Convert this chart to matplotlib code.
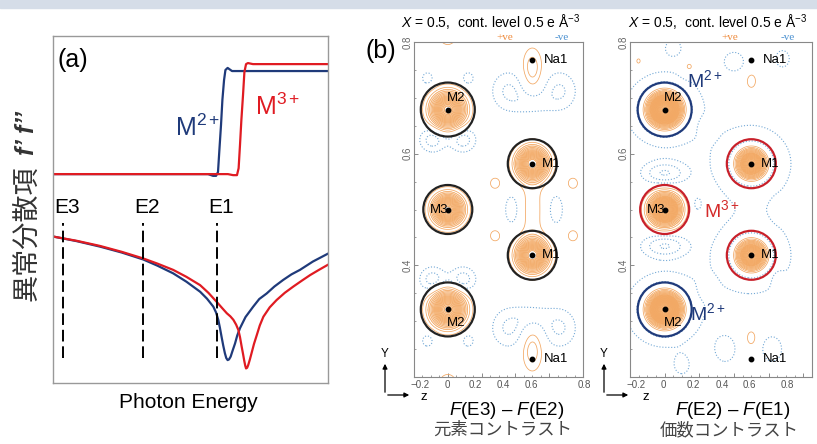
import numpy as np
import matplotlib
matplotlib.use("Agg")
import matplotlib.pyplot as plt
from matplotlib.patches import Ellipse, Rectangle, FancyArrowPatch
from matplotlib.transforms import blended_transform_factory

plt.rcParams['font.family'] = ['Liberation Sans', 'Noto Sans CJK JP', 'DejaVu Sans']
plt.rcParams['mathtext.fontset'] = 'custom'
plt.rcParams['mathtext.rm'] = 'Liberation Sans'
plt.rcParams['mathtext.it'] = 'Liberation Sans:italic'
plt.rcParams['mathtext.bf'] = 'Liberation Sans:bold'

NAVY = '#1f3a7a'
RED = '#e01b22'
ORANGE = '#f2a660'
LBLUE = '#74a9d6'

# ---- panel (a): anomalous dispersion curves (arbitrary units) ----
fpp_blue_e = [0, 56.4, 58.2, 59.3, 60.0, 60.5, 61.1, 61.6, 62.2, 62.7, 63.5, 65.1, 100]
fpp_blue_i = [60.2, 60.2, 59.7, 59.7, 60.8, 67.1, 74.4, 81.6, 87.3, 90.2, 90.8, 89.9, 89.9]
fpp_red_e = [0, 63.6, 65.5, 66.9, 67.5, 68.0, 68.5, 69.1, 69.6, 70.2, 70.9, 72.7, 100]
fpp_red_i = [60.2, 60.2, 59.9, 59.9, 61.9, 68.6, 75.8, 83.0, 89.6, 91.9, 92.2, 91.9, 91.9]

fp_blue_e = [0.1, 8.5, 17.1, 25.0, 32.8, 38.0, 43.7, 48.5, 53.5, 56.0, 58.3, 59.3, 60.1,
             60.7, 61.3, 61.9, 62.5, 63.0, 63.5, 64.0, 64.6, 65.3, 66.2, 67.0, 68.0,
             70.0, 72.8, 75.0, 77.7, 80.5, 83.7, 86.7, 89.8, 94.5, 99.8]
fp_blue_i = [42.2, 40.9, 39.3, 37.6, 35.6, 33.8, 31.6, 29.2, 26.3, 24.3, 22.0, 20.3, 18.2,
             15.9, 13.3, 10.8, 8.6, 7.2, 6.6, 6.8, 7.6, 9.3, 11.4, 13.7, 15.8,
             19.0, 22.0, 24.2, 25.8, 27.8, 29.7, 31.3, 32.6, 35.0, 37.2]
fp_red_e = [0.1, 8.5, 17.1, 25.0, 32.8, 38.0, 43.7, 48.5, 53.5, 56.5, 59.5, 61.5, 63.2,
            64.5, 65.6, 66.6, 67.4, 68.0, 68.6, 69.1, 69.5, 69.9, 70.2, 70.6, 71.0,
            71.6, 72.2, 73.1, 74.1, 75.2, 76.5, 78.8, 81.3, 84.3, 87.4, 90.5, 93.5,
            96.7, 99.8]
fp_red_i = [42.2, 41.0, 39.5, 37.8, 35.9, 34.4, 32.6, 30.6, 28.2, 26.0, 23.4, 21.6, 20.1,
            19.2, 18.2, 16.8, 15.3, 13.2, 10.5, 8.4, 6.6, 5.0, 4.2, 4.4, 5.2,
            6.8, 8.6, 11.3, 13.8, 16.6, 19.1, 21.8, 23.9, 26.0, 27.8, 29.5, 31.1,
            32.6, 34.0]

edge_names = ['E3', 'E2', 'E1']
edge_e = [3.6, 32.7, 59.6]
edge_top, edge_bottom = 46.1, 7.2

# ---- panel (b): difference-Fourier maps, modelled as sums of peaks ----
atom_names = ['M2', 'M2', 'M1', 'M1', 'M3', 'Na1', 'Na1']
atom_z = [0.0, 0.0, 0.5, 0.5, 0.0, 0.5, 0.5]
atom_y = [0.679, 0.321, 0.582, 0.418, 0.5, 0.768, 0.232]
circle_r = [27, 27, 24.5, 24.5, 24.5, 0, 0]          # circle radius in px
left_circle_color = ['#222222'] * 7
right_circle_color = [NAVY, NAVY, '#c8202a', '#c8202a', '#c8202a', None, None]

# element contrast F(E3)-F(E2): z, y, amplitude, sigma_z, sigma_y
elem_z = [0.0, 0.0, 0.5, 0.5, 0.0, 0.5, 0.5, 0.0, 0.0, 0.28, 0.74, 0.28, 0.74, 0.5,
          -0.09, 0.09, -0.09, 0.09, -0.12, 0.12, -0.12, 0.12,
          0.36, 0.66, 0.5, 0.36, 0.66, 0.5, 0.38, 0.64, 0.84, 0.84]
elem_y = [0.679, 0.321, 0.582, 0.418, 0.5, 0.752, 0.248, 0.83, 0.17, 0.547, 0.547, 0.453, 0.453, 0.5,
          0.625, 0.625, 0.375, 0.375, 0.735, 0.735, 0.265, 0.265,
          0.712, 0.712, 0.69, 0.288, 0.288, 0.31, 0.5, 0.5, 0.62, 0.38]
elem_amp = [9, 9, 9, 9, 9, 1.4, 1.4, 1.3, 1.3, 0.75, 0.75, 0.75, 0.75, 0.78,
            -1.3, -1.3, -1.3, -1.3, -0.8, -0.8, -0.8, -0.8,
            -1.1, -1.1, -0.7, -1.1, -1.1, -0.7, -0.9, -0.9, -0.8, -0.8]
elem_sz = [0.062, 0.062, 0.057, 0.057, 0.056, 0.042, 0.042, 0.05, 0.05, 0.03, 0.03, 0.03, 0.03, 0.05,
           0.055, 0.055, 0.055, 0.055, 0.03, 0.03, 0.03, 0.03,
           0.075, 0.075, 0.07, 0.075, 0.075, 0.07, 0.035, 0.035, 0.04, 0.04]
elem_sy = [0.019, 0.019, 0.0175, 0.0175, 0.017, 0.026, 0.026, 0.025, 0.025, 0.01, 0.01, 0.01, 0.01, 0.07,
           0.016, 0.016, 0.016, 0.016, 0.01, 0.01, 0.01, 0.01,
           0.026, 0.026, 0.015, 0.026, 0.026, 0.015, 0.022, 0.022, 0.02, 0.02]

# valence contrast F(E2)-F(E1)
val_z = [0.0, 0.0, 0.5, 0.5, 0.0, 0.0, 0.0, 0.5, 0.5, 0.0, 0.0,
         0.25, 0.14, -0.15, 0.5, 0.5, 0.66, 0.66, 0.25,
         0.05, 0.4, 0.68, 0.19, 0.35, 0.62, 0.1]
val_y = [0.679, 0.321, 0.582, 0.418, 0.5, 0.679, 0.321, 0.582, 0.418, 0.565, 0.435,
         0.645, 0.755, 0.765, 0.73, 0.27, 0.5, 0.37, 0.36,
         0.79, 0.765, 0.77, 0.51, 0.25, 0.25, 0.22]
val_amp = [14, 14, 10, 10, 10, -1.6, -1.6, -1.6, -1.6, -1.5, -1.5,
           0.9, 0.8, 0.7, 0.8, 0.8, 0.8, 0.8, 0.9,
           -0.8, -0.9, -0.8, -0.7, -0.9, -0.9, -0.7]
val_sz = [0.06, 0.06, 0.055, 0.055, 0.055, 0.15, 0.15, 0.15, 0.15, 0.09, 0.09,
          0.03, 0.03, 0.025, 0.025, 0.025, 0.025, 0.025, 0.03,
          0.04, 0.05, 0.04, 0.02, 0.05, 0.05, 0.04]
val_sy = [0.0185, 0.0185, 0.017, 0.017, 0.017, 0.045, 0.045, 0.045, 0.045, 0.014, 0.014,
          0.012, 0.01, 0.01, 0.012, 0.012, 0.012, 0.012, 0.012,
          0.012, 0.015, 0.015, 0.01, 0.02, 0.02, 0.015]

xtick_vals = ['\u22120.2', '0', '0.2', '0.4', '0.6', '0.8']
left_xlabel_pos = [-0.165, -0.005, 0.165, 0.33, 0.495, 0.805]
right_xlabel_pos = [-0.165, -0.005, 0.165, 0.33, 0.49, 0.705]

W, H = 817, 444
fig = plt.figure(figsize=(W / 100, H / 100), dpi=100)
fig.patches.append(Rectangle((0, 436 / H), 1, 8 / H, transform=fig.transFigure,
                             color='#d5dde8', zorder=0))


def fig_box(x0, y0, x1, y1):
    return [x0 / W, 1 - y1 / H, (x1 - x0) / W, (y1 - y0) / H]


def ftext(x, y, s, **kw):
    fig.text(x / W, 1 - y / H, s, **kw)


# ---- panel (a) ----
ax = fig.add_axes(fig_box(53, 36, 328, 383))
ax.plot(fpp_blue_e, fpp_blue_i, color=NAVY, lw=1.6)
ax.plot(fpp_red_e, fpp_red_i, color=RED, lw=1.6)
ax.plot(fp_blue_e, fp_blue_i, color=NAVY, lw=1.6)
ax.plot(fp_red_e, fp_red_i, color=RED, lw=1.6)
for name, e in zip(edge_names, edge_e):
    ax.plot([e, e], [edge_bottom, edge_top], color='black', lw=1.4,
            linestyle=(0, (6, 2.5)))
    ax.text(e + 1.5, edge_top + 4.5, name, ha='center', va='center', fontsize=15)
ax.text(1.5, 93, '(a)', ha='left', va='center', fontsize=18)
ax.text(52.4, 73.5, r'M$^{\mathregular{2+}}$', color=NAVY, ha='center', va='center', fontsize=18)
ax.text(81.8, 79.5, r'M$^{\mathregular{3+}}$', color=RED, ha='center', va='center', fontsize=18)
ax.set_xlim(0, 100)
ax.set_ylim(0, 100)
ax.set_xticks([])
ax.set_yticks([])
for sp in ax.spines.values():
    sp.set_color('#999999')
    sp.set_linewidth(1.0)
ftext(188, 402, 'Photon Energy', ha='center', va='center', fontsize=15)
ftext(27, 233, '異常分散項', rotation=90, ha='center', va='center', fontsize=19.5,
      family='Noto Sans CJK JP', color='#333333')
ftext(27, 133, 'f\u2019 f\u2019\u2019', rotation=90, ha='center', va='center', fontsize=18,
      style='italic', weight='bold', color='#333333')


# ---- panel (b) ----
def field(zz, yy, pz, py, amp, sz, sy):
    out = np.zeros_like(zz)
    for a, b, c, d, e in zip(pz, py, amp, sz, sy):
        out += c * np.exp(-((zz - a) ** 2) / (2 * d ** 2) - ((yy - b) ** 2) / (2 * e ** 2))
    return out


def draw_map(box, zmax, pz, py, amp, sz, sy, circle_colors, label_pos, top_level, fills):
    ax = fig.add_axes(fig_box(*box))
    zg = np.linspace(-0.2, zmax, 500)
    yg = np.linspace(0.2, 0.8, 700)
    zz, yy = np.meshgrid(zg, yg)
    f = field(zz, yy, pz, py, amp, sz, sy)
    ax.contourf(zz, yy, f, levels=[1.5, 4.0, top_level], colors=fills)
    ax.contour(zz, yy, f, levels=np.arange(0.5, top_level + 0.1, 0.5), colors=ORANGE,
               linewidths=0.55)
    ax.contour(zz, yy, f, levels=[-2.0, -1.5, -1.0, -0.5], colors=LBLUE,
               linewidths=0.8, linestyles=':')
    px_z = (box[2] - box[0]) / (zmax + 0.2)
    px_y = (box[3] - box[1]) / 0.6
    for name, z, y, r, col in zip(atom_names, atom_z, atom_y, circle_r, circle_colors):
        if r > 0:
            ax.add_patch(Ellipse((z, y), 2 * r / px_z, 2 * r / px_y, fill=False,
                                 edgecolor=col, lw=1.6, zorder=5))
        ax.plot(z, y, 'o', color='black', ms=3.2, zorder=6)
    for name, z, y in zip(atom_names, atom_z, atom_y):
        if name == 'M2' and y > 0.5:
            ax.text(z + 8 / px_z, y + 12 / px_y, name, ha='center', va='center', fontsize=9.5, zorder=7)
        elif name == 'M2':
            ax.text(z + 8 / px_z, y - 14 / px_y, name, ha='center', va='center', fontsize=9.5, zorder=7)
        elif name == 'M1':
            ax.text(z + 10 / px_z, y, name, ha='left', va='center', fontsize=9.5, zorder=7)
        elif name == 'M3':
            ax.text(z + 1 / px_z, y, name, ha='right', va='center', fontsize=9.5, zorder=7)
        else:
            ax.text(z + 12 / px_z, y, name, ha='left', va='center', fontsize=9.5, zorder=7)
    ax.set_xlim(-0.2, zmax)
    ax.set_ylim(0.2, 0.8)
    ax.set_xticks(np.arange(-0.2, 0.81, 0.2))
    ax.set_xticklabels([])
    ax.set_xticks(np.arange(-0.2, zmax, 0.05), minor=True)
    ax.set_yticks([0.2, 0.4, 0.6, 0.8])
    ax.set_yticklabels(['', '0.4', '0.6', '0.8'], rotation=90, va='center',
                       fontsize=7, color='#666666')
    ax.set_yticks(np.arange(0.2, 0.81, 0.05), minor=True)
    ax.tick_params(which='major', length=3, width=0.6, color='#777777', pad=1, direction='in')
    ax.tick_params(which='minor', length=1.5, width=0.5, color='#777777', direction='in')
    trans = blended_transform_factory(ax.transData, ax.transAxes)
    for p, s in zip(label_pos, xtick_vals):
        ax.text(p, -0.01, s, transform=trans, ha='center', va='top', fontsize=7, color='#555555')
    for sp in ax.spines.values():
        sp.set_color('#888888')
        sp.set_linewidth(0.8)
    return ax


draw_map((414, 42, 583, 377), 0.8, elem_z, elem_y, elem_amp, elem_sz, elem_sy,
         left_circle_color, left_xlabel_pos, 8.5, ['#fde9d6', '#fbd8b6'])
axr = draw_map((630, 42, 812, 377), 0.85, val_z, val_y, val_amp, val_sz, val_sy,
               right_circle_color, right_xlabel_pos, 12.0, ['#fce0c2', '#f8c08a'])
axr.text(0.231, 0.732, r'M$^{\mathregular{2+}}$', color=NAVY, ha='center',
         va='center', fontsize=14, zorder=7)
axr.text(0.25, 0.314, r'M$^{\mathregular{2+}}$', color=NAVY, ha='center',
         va='center', fontsize=14, zorder=7)
axr.text(0.33, 0.499, r'M$^{\mathregular{3+}}$', color='#d42a2a', ha='center',
         va='center', fontsize=14, zorder=7)

ftext(381, 51, '(b)', ha='center', va='center', fontsize=18)
for cx, pve, nve in [(491, 505, 562), (718, 730, 788)]:
    ftext(cx, 23, r'$\it{X}$ = 0.5,  cont. level 0.5 e Å$^{-3}$', ha='center', va='center', fontsize=10)
    ftext(pve, 38, '+ve', ha='center', va='center', fontsize=8, family='Liberation Serif', color='#ee8a3c')
    ftext(nve, 38, '-ve', ha='center', va='center', fontsize=8, family='Liberation Serif', color='#4a90d0')

for x0, zx, cx, top, bot in [(385, 424, 507, '$\\it{F}$(E3) \u2013 $\\it{F}$(E2)', '元素コントラスト'),
                             (604, 646, 733, '$\\it{F}$(E2) \u2013 $\\it{F}$(E1)', '価数コントラスト')]:
    fig.add_artist(FancyArrowPatch(
        (x0 / W, 1 - 395 / H), (x0 / W, 1 - 361 / H), transform=fig.transFigure,
        arrowstyle='-|>', mutation_scale=7, lw=0.9, color='black'))
    fig.add_artist(FancyArrowPatch(
        (x0 / W, 1 - 395 / H), ((x0 + 27) / W, 1 - 395 / H), transform=fig.transFigure,
        arrowstyle='-|>', mutation_scale=7, lw=0.9, color='black'))
    ftext(x0, 354, 'Y', ha='center', va='center', fontsize=8.5)
    ftext(zx, 397, 'z', ha='center', va='center', fontsize=9.5)
    ftext(cx, 410, top, ha='center', va='center', fontsize=13.5)
    ftext(cx - 4, 430, bot, ha='center', va='center', fontsize=12.5, color='#444444')

fig.savefig('out.png', dpi=100)
